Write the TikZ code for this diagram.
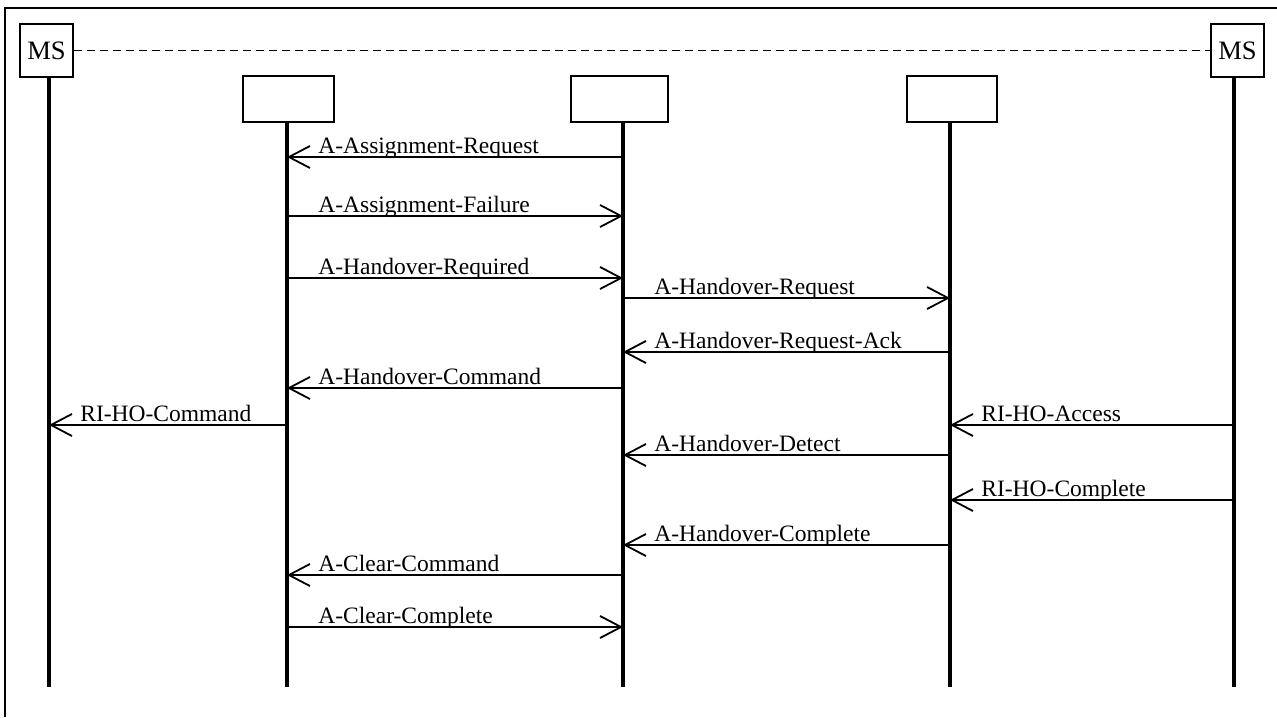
\documentclass[tikz,border=0pt]{standalone}
\usepackage{fontspec}
\setmainfont{Liberation Serif}
\usetikzlibrary{arrows.meta,calc}
\begin{document}
\begin{tikzpicture}[x=0.5pt,y=-0.5pt,
  frame/.style={line width=1pt},
  entbox/.style={draw,line width=1pt,inner sep=0pt,anchor=north west},
  msbox/.style={entbox,minimum width=26.5pt,minimum height=26.5pt,font=\fontsize{13.3}{15}\selectfont},
  lifeline/.style={line width=2pt},
  msg/.style={line width=0.9pt,-{Straight Barb[length=10.5pt,width=11pt,line width=0.9pt]}},
  lbl/.style={anchor=base west,inner sep=0pt,font=\fontsize{11.75}{14}\selectfont},
]
\useasboundingbox (0,0) rectangle (1277,717);
\draw[frame] (5,717) -- (5,8) -- (1277,8);

% entities
\node[msbox] (ms1) at (19,23) {MS};
\node[msbox] (ms2) at (1210,23) {MS};
\node[entbox,minimum width=45.5pt,minimum height=23pt] (b2) at (242,75) {};
\node[entbox,minimum width=48.5pt,minimum height=23pt] (b3) at (570,75) {};
\node[entbox,minimum width=45pt,minimum height=23pt] (b4) at (906,75) {};

\draw[dashed,line width=0.7pt,dash pattern=on 4pt off 2.5pt] (ms1.east) -- (ms2.west);

% lifelines
\coordinate (l1) at (49,687);
\coordinate (l2) at (287,687);
\coordinate (l3) at (623,687);
\coordinate (l4) at (950,687);
\coordinate (l5) at (1234,687);
\draw[lifeline] (l1 |- ms1.south) -- (l1);
\draw[lifeline] (l2 |- b2.south) -- (l2);
\draw[lifeline] (l3 |- b3.south) -- (l3);
\draw[lifeline] (l4 |- b4.south) -- (l4);
\draw[lifeline] (l5 |- ms2.south) -- (l5);

% messages
\draw[msg] (l3 |- 0,157) -- (l2 |- 0,157);
\node[lbl] at ($(l2 |- 0,157)+(31,-4)$) {A-Assignment-Request};

\draw[msg] (l2 |- 0,216) -- (l3 |- 0,216);
\node[lbl] at ($(l2 |- 0,216)+(31,-4)$) {A-Assignment-Failure};

\draw[msg] (l2 |- 0,278) -- (l3 |- 0,278);
\node[lbl] at ($(l2 |- 0,278)+(31,-4)$) {A-Handover-Required};

\draw[msg] (l3 |- 0,298) -- (l4 |- 0,298);
\node[lbl] at ($(l3 |- 0,298)+(31,-4)$) {A-Handover-Request};

\draw[msg] (l4 |- 0,352) -- (l3 |- 0,352);
\node[lbl] at ($(l3 |- 0,352)+(31,-4)$) {A-Handover-Request-Ack};

\draw[msg] (l3 |- 0,388) -- (l2 |- 0,388);
\node[lbl] at ($(l2 |- 0,388)+(31,-4)$) {A-Handover-Command};

\draw[msg] (l2 |- 0,425) -- (l1 |- 0,425);
\node[lbl] at ($(l1 |- 0,425)+(31,-4)$) {RI-HO-Command};

\draw[msg] (l5 |- 0,425) -- (l4 |- 0,425);
\node[lbl] at ($(l4 |- 0,425)+(31,-4)$) {RI-HO-Access};

\draw[msg] (l4 |- 0,455) -- (l3 |- 0,455);
\node[lbl] at ($(l3 |- 0,455)+(31,-4)$) {A-Handover-Detect};

\draw[msg] (l5 |- 0,500) -- (l4 |- 0,500);
\node[lbl] at ($(l4 |- 0,500)+(31,-4)$) {RI-HO-Complete};

\draw[msg] (l4 |- 0,545) -- (l3 |- 0,545);
\node[lbl] at ($(l3 |- 0,545)+(31,-4)$) {A-Handover-Complete};

\draw[msg] (l3 |- 0,575) -- (l2 |- 0,575);
\node[lbl] at ($(l2 |- 0,575)+(31,-4)$) {A-Clear-Command};

\draw[msg] (l2 |- 0,627) -- (l3 |- 0,627);
\node[lbl] at ($(l2 |- 0,627)+(31,-4)$) {A-Clear-Complete};
\end{tikzpicture}
\end{document}
